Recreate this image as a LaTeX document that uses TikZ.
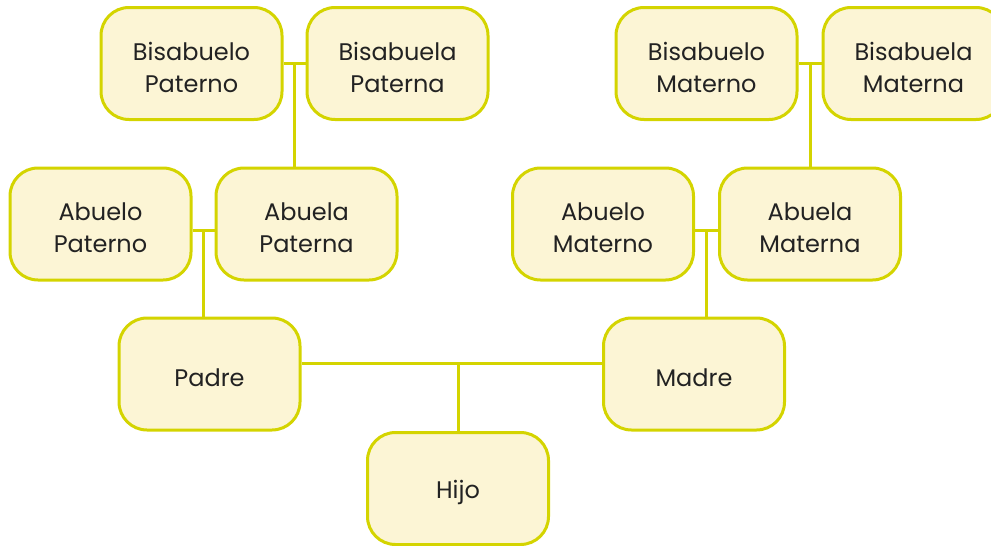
\documentclass[tikz,border=0pt]{standalone}
\usepackage{fontspec}
\setmainfont{Poppins}
\usetikzlibrary{positioning, calc}
\definecolor{ramaborde}{RGB}{212,212,0}
\definecolor{ramafondo}{RGB}{252,245,213}
\definecolor{ramatexto}{RGB}{34,34,34}
\newcommand{\altura}{\rule{0pt}{26pt}}

\begin{document}
\begin{tikzpicture}[
    x=1pt, y=-1pt,
    persona/.style={rectangle, draw=ramaborde, line width=3pt, rounded corners=28pt, fill=ramafondo,
        minimum height=112pt, minimum width=181pt, align=center, text=ramatexto,
        font=\fontsize{24}{32}\selectfont},
    rama/.style={draw=ramaborde, line width=3pt}
]
    \useasboundingbox (0,0) rectangle (991,546);

    % Fila 1 — bisabuelos
    \node[persona] (bpo) at (191.5, 63.5) {\altura Bisabuelo\\Paterno};
    \node[persona] (bpa) at (397.5, 63.5) {\altura Bisabuela\\Paterna};
    \node[persona] (bmo) at (706.5, 63.5) {\altura Bisabuelo\\Materno};
    \node[persona] (bma) at (913.5, 63.5) {\altura Bisabuela\\Materna};

    % Fila 2 — abuelos
    \node[persona] (apo) at (100.5, 224) {\altura Abuelo\\Paterno};
    \node[persona] (apa) at (306.5, 224) {\altura Abuela\\Paterna};
    \node[persona] (amo) at (603, 224) {\altura Abuelo\\Materno};
    \node[persona] (ama) at (810, 224) {\altura Abuela\\Materna};

    % Fila 3 — padres
    \node[persona] (padre) at (209.5, 374) {\altura Padre};
    \node[persona] (madre) at (694, 374) {\altura Madre};

    % Fila 4 — hijo
    \node[persona] (hijo) at (458, 488.5) {\altura Hijo};

    % === Uniones de pareja ===
    \draw[rama] (bpo.east) -- (bpa.west);
    \draw[rama] (bmo.east) -- (bma.west);
    \coordinate (uapo) at ($(apo.east)+(0,6)$);
    \coordinate (uama) at ($(amo.east)+(0,6)$);
    \draw[rama] (uapo) -- (uapo -| apa.west);
    \draw[rama] (uama) -- (uama -| ama.west);
    \coordinate (upadre) at ($(padre.east)+(0,-11)$);
    \draw[rama] (upadre) -- (upadre -| madre.west);

    % === Descendencia ===
    \coordinate (jbp) at ($(bpo.east)!0.5!(bpa.west)$);
    \coordinate (jbm) at ($(bmo.east)!0.5!(bma.west)$);
    \coordinate (jap) at ($(uapo)!0.5!(uapo -| apa.west)$);
    \coordinate (jam) at ($(uama)!0.5!(uama -| ama.west)$);
    \draw[rama] (jbp) -- (jbp |- apa.north);
    \draw[rama] (jbm) -- (jbm |- ama.north);
    \draw[rama] (jap) -- (jap |- padre.north);
    \draw[rama] (jam) -- (jam |- madre.north);
    \draw[rama] (hijo.north |- upadre) -- (hijo.north);

\end{tikzpicture}
\end{document}
